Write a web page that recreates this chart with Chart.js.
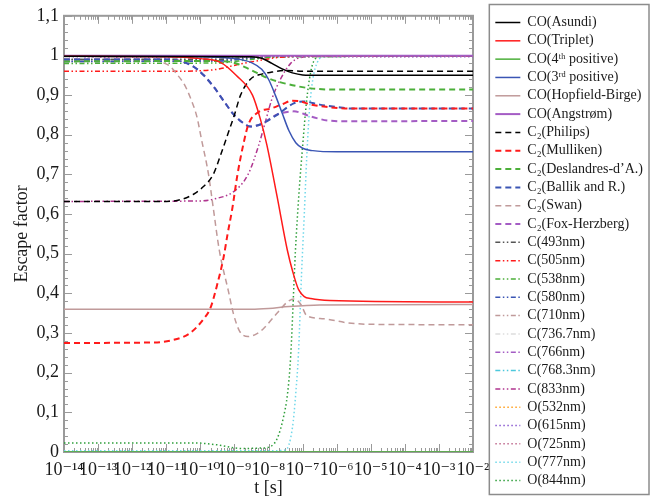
<!DOCTYPE html>
<html>
<head>
<meta charset="utf-8">
<script src="https://cdn.jsdelivr.net/npm/chart.js@4.4.1/dist/chart.umd.min.js"></script>
<style>
  html, body { margin: 0; padding: 0; background: #fff; }
</style>
</head>
<body>
<canvas id="escapeChart" width="654" height="499"></canvas>
<script>
// decade exponents for the time axis (t in seconds)
const decadeExponents = [-14, -13, -12, -11, -10, -9, -8, -7, -6, -5, -4, -3, -2];
const yTickValues = [0, 0.1, 0.2, 0.3, 0.4, 0.5, 0.6, 0.7, 0.8, 0.9, 1, 1.1];

// each series: [log10(t), escape factor]
const coAsundi = [[-14, 0.998], [-8.5, 0.997], [-8.2, 0.993], [-7.9, 0.98], [-7.6, 0.966], [-7.3, 0.956], [-7.0, 0.951], [-6.5, 0.95], [-2, 0.95]];
const coTriplet = [[-14, 0.998], [-11, 0.997], [-10, 0.992], [-9.4, 0.982], [-8.95, 0.95], [-8.47, 0.9], [-8.24, 0.84], [-8.05, 0.775], [-7.75, 0.645], [-7.45, 0.51], [-7.29, 0.455], [-7.12, 0.41], [-6.95, 0.392], [-6.76, 0.387], [-6.2, 0.382], [-2, 0.378]];
const co4thPositive = [[-14, 0.0], [-2, 0.0]];
const co3rdPositive = [[-14, 0.998], [-10, 0.997], [-9, 0.992], [-8.5, 0.982], [-8.2, 0.965], [-8.0, 0.94], [-7.8, 0.9], [-7.6, 0.855], [-7.4, 0.81], [-7.2, 0.78], [-7.0, 0.766], [-6.7, 0.76], [-6, 0.757], [-2, 0.757]];
const coHopfieldBirge = [[-14, 0.36], [-8.5, 0.36], [-8, 0.362], [-7.4, 0.367], [-6.5, 0.371], [-2, 0.372]];
const coAngstrom = [[-14, 0.999], [-2, 0.999]];
const c2Philips = [[-14, 0.632], [-11, 0.632], [-10.6, 0.636], [-10.2, 0.65], [-9.9, 0.67], [-9.62, 0.7], [-9.4, 0.75], [-9.2, 0.8], [-9.0, 0.85], [-8.82, 0.9], [-8.53, 0.94], [-8.2, 0.953], [-7.9, 0.958], [-7.5, 0.962], [-7, 0.96], [-2, 0.96]];
const c2Mulliken = [[-14, 0.275], [-11.5, 0.276], [-10.88, 0.281], [-10.3, 0.3], [-9.9, 0.336], [-9.7, 0.364], [-9.5, 0.424], [-9.32, 0.49], [-9.2, 0.55], [-9.06, 0.615], [-8.91, 0.7], [-8.74, 0.775], [-8.59, 0.826], [-8.3, 0.857], [-7.94, 0.866], [-7.6, 0.877], [-7.3, 0.886], [-7.1, 0.885], [-6.76, 0.876], [-6.26, 0.87], [-5.6, 0.866], [-2, 0.866]];
const c2Deslandres = [[-14, 0.985], [-9.5, 0.986], [-9.03, 0.982], [-8.6, 0.967], [-8.0, 0.942], [-7.5, 0.929], [-6.76, 0.917], [-6, 0.914], [-2, 0.914]];
const c2Ballik = [[-14, 0.99], [-11, 0.99], [-10.6, 0.986], [-10.2, 0.972], [-9.9, 0.95], [-9.6, 0.92], [-9.32, 0.886], [-9.03, 0.852], [-8.75, 0.83], [-8.53, 0.821], [-8.24, 0.826], [-7.74, 0.851], [-7.26, 0.879], [-6.97, 0.884], [-6.5, 0.876], [-6, 0.87], [-5.5, 0.866], [-2, 0.866]];
const c2Swan = [[-14, 0.99], [-11.5, 0.99], [-11.1, 0.982], [-10.88, 0.972], [-10.7, 0.954], [-10.47, 0.927], [-10.3, 0.895], [-10.1, 0.845], [-9.97, 0.79], [-9.76, 0.7], [-9.62, 0.615], [-9.44, 0.507], [-9.18, 0.407], [-9.03, 0.349], [-8.85, 0.305], [-8.6, 0.291], [-8.35, 0.298], [-8.15, 0.311], [-7.76, 0.349], [-7.45, 0.378], [-7.25, 0.386], [-7.05, 0.372], [-6.88, 0.344], [-6.38, 0.336], [-5.7, 0.326], [-5, 0.322], [-2, 0.321]];
const c2FoxHerzberg = [[-14, 0.99], [-11, 0.99], [-10.6, 0.986], [-10.2, 0.972], [-9.9, 0.95], [-9.6, 0.92], [-9.32, 0.886], [-9.03, 0.852], [-8.75, 0.83], [-8.53, 0.821], [-8.24, 0.826], [-7.74, 0.851], [-7.26, 0.859], [-6.76, 0.846], [-6.26, 0.836], [-5.6, 0.834], [-2, 0.835]];
const c493 = [[-14, 0.99], [-9.5, 0.99], [-8.5, 0.996], [-7.5, 0.999], [-2, 0.999]];
const c505 = [[-14, 0.96], [-10.9, 0.96], [-9.6, 0.964], [-9.4, 0.967], [-8.9, 0.977], [-8.3, 0.987], [-7.8, 0.994], [-7, 0.998], [-2, 0.998]];
const c538 = [[-14, 0.98], [-9.5, 0.981], [-8.5, 0.99], [-7.5, 0.997], [-2, 0.998]];
const c580 = [[-14, 0.985], [-9.5, 0.986], [-8.5, 0.993], [-7.5, 0.998], [-2, 0.998]];
const c710 = [[-14, 0.99], [-9, 0.991], [-8, 0.997], [-2, 0.998]];
const c7367 = [[-14, 0.995], [-2, 0.999]];
const c766 = [[-14, 0.985], [-9.5, 0.986], [-8.5, 0.993], [-7.5, 0.998], [-2, 0.999]];
const c7683 = [[-14, 0.99], [-9.5, 0.991], [-8.5, 0.996], [-2, 0.999]];
const c833 = [[-14, 0.632], [-10, 0.633], [-9.6, 0.638], [-9.0, 0.658], [-8.6, 0.7], [-8.3, 0.77], [-8.1, 0.83], [-7.9, 0.89], [-7.65, 0.94], [-7.35, 0.98], [-7.05, 0.995], [-6, 0.999], [-2, 0.999]];
const o532 = [[-14, 0.998], [-2, 0.998]];
const o615 = [[-14, 0.997], [-2, 0.997]];
const o725 = [[-14, 0.995], [-2, 0.998]];
const o777 = [[-14, 0.003], [-8, 0.003], [-7.5, 0.005], [-7.3, 0.06], [-7.2, 0.148], [-7.12, 0.25], [-7.03, 0.45], [-6.95, 0.6], [-6.88, 0.74], [-6.8, 0.86], [-6.7, 0.94], [-6.56, 0.984], [-6.38, 0.997], [-2, 0.999]];
const o844 = [[-14, 0.023], [-10.2, 0.023], [-9.5, 0.018], [-8.8, 0.009], [-8.2, 0.01], [-7.94, 0.014], [-7.74, 0.035], [-7.56, 0.088], [-7.44, 0.148], [-7.35, 0.24], [-7.21, 0.507], [-7.1, 0.66], [-7.0, 0.77], [-6.9, 0.87], [-6.8, 0.94], [-6.68, 0.984], [-6.47, 0.997], [-2, 0.999]];

const SOLID = [];
const DASHED = [6, 4];
const DASH_DOT = [5, 2.5, 1.5, 2.5, 1.5, 2.5];
const DOTTED = [1.5, 2.5];

const seriesList = [
  ['CO(Asundi)', coAsundi, '#000000', SOLID, 1.5],
  ['CO(Triplet)', coTriplet, '#ff1a1a', SOLID, 1.5],
  ['CO(4\u1D57\u02B0 positive)', co4thPositive, '#4caf3a', SOLID, 1.5],
  ['CO(3\u02B3\u1D48 positive)', co3rdPositive, '#3a55b4', SOLID, 1.5],
  ['CO(Hopfield-Birge)', coHopfieldBirge, '#c09a9a', SOLID, 1.5],
  ['CO(Angstrøm)', coAngstrom, '#a45cc4', SOLID, 2],
  ['C\u2082(Philips)', c2Philips, '#000000', DASHED, 1.5],
  ['C\u2082(Mulliken)', c2Mulliken, '#ff1a1a', DASHED, 2],
  ['C\u2082(Deslandres-d\u2019A.)', c2Deslandres, '#4caf3a', DASHED, 2],
  ['C\u2082(Ballik and R.)', c2Ballik, '#3a55b4', DASHED, 2],
  ['C\u2082(Swan)', c2Swan, '#c09a9a', DASHED, 1.5],
  ['C\u2082(Fox-Herzberg)', c2FoxHerzberg, '#a45cc4', DASHED, 2],
  ['C(493nm)', c493, '#555555', DASH_DOT, 1.5],
  ['C(505nm)', c505, '#ff1a1a', DASH_DOT, 1.5],
  ['C(538nm)', c538, '#4caf3a', DASH_DOT, 1.5],
  ['C(580nm)', c580, '#3a55b4', DASH_DOT, 1.5],
  ['C(710nm)', c710, '#c09a9a', DASH_DOT, 1.5],
  ['C(736.7nm)', c7367, '#dddddd', DASH_DOT, 1.5],
  ['C(766nm)', c766, '#a45cc4', DASH_DOT, 1.5],
  ['C(768.3nm)', c7683, '#4cc8dc', DASH_DOT, 1.5],
  ['C(833nm)', c833, '#b0358f', DASH_DOT, 1.5],
  ['O(532nm)', o532, '#ffa020', DOTTED, 1.5],
  ['O(615nm)', o615, '#8a5ad0', DOTTED, 1.5],
  ['O(725nm)', o725, '#c06c90', DOTTED, 1.5],
  ['O(777nm)', o777, '#70d8ea', DOTTED, 1.5],
  ['O(844nm)', o844, '#2e9e3a', DOTTED, 1.5],
];

const AXIS_COLOR = '#9a9a9a';
const TEXT_COLOR = '#1a1a1a';
const SERIF = "'Liberation Serif', 'DejaVu Serif', serif";
const SUP = { '-': '\u207B', '0': '\u2070', '1': '\u00B9', '2': '\u00B2', '3': '\u00B3', '4': '\u2074', '5': '\u2075', '6': '\u2076', '7': '\u2077', '8': '\u2078', '9': '\u2079' };

function toSuperscript(n) {
  return String(n).split('').map((ch) => SUP[ch] || ch).join('');
}

function toPoints(pairs) {
  return pairs.map(([e, v]) => ({ x: Math.pow(10, e), y: v }));
}

const datasets = seriesList.map(([label, pairs, color, dash, width]) => ({
  label,
  data: toPoints(pairs),
  borderColor: color,
  backgroundColor: color,
  borderDash: dash,
  borderWidth: width,
  pointRadius: 0,
  pointHoverRadius: 0,
  pointStyle: 'line',
  cubicInterpolationMode: 'monotone',
  fill: false,
}));

// legend samples keep the dataset's dash pattern
function legendLabels(chart) {
  const items = Chart.defaults.plugins.legend.labels.generateLabels(chart);
  return items.map((item) => {
    const ds = chart.data.datasets[item.datasetIndex];
    return { ...item, lineDash: ds.borderDash, lineWidth: ds.borderWidth, strokeStyle: ds.borderColor, pointStyle: 'line' };
  });
}

// inward tick marks on all four sides plus the plot frame and legend frame
const frameTicks = {
  id: 'frameTicks',
  beforeDatasetsDraw(chart) {
    const { ctx, chartArea: a, scales: { x, y } } = chart;
    ctx.save();
    ctx.strokeStyle = AXIS_COLOR;
    ctx.lineWidth = 1;
    ctx.beginPath();
    for (let i = 0; i <= 55; i += 1) {
      const py = Math.round(y.getPixelForValue(i * 0.02)) + 0.5;
      const len = i % 5 === 0 ? 8 : 4;
      ctx.moveTo(a.left, py); ctx.lineTo(a.left + len, py);
      ctx.moveTo(a.right, py); ctx.lineTo(a.right - len, py);
    }
    decadeExponents.forEach((e) => {
      const last = e === decadeExponents[decadeExponents.length - 1] ? 1 : 9;
      for (let k = 1; k <= last; k += 1) {
        const px = Math.round(x.getPixelForValue(k * Math.pow(10, e))) + 0.5;
        const len = k === 1 ? 8 : 4;
        ctx.moveTo(px, a.bottom); ctx.lineTo(px, a.bottom - len);
        ctx.moveTo(px, a.top); ctx.lineTo(px, a.top + len);
      }
    });
    ctx.stroke();
    ctx.lineWidth = 2;
    ctx.strokeRect(a.left, a.top, a.right - a.left, a.bottom - a.top);
    ctx.restore();
  },
  afterDraw(chart) {
    const l = chart.legend;
    if (!l || !l.legendHitBoxes.length) return;
    const boxes = l.legendHitBoxes;
    const first = boxes[0];
    const last = boxes[boxes.length - 1];
    const { ctx } = chart;
    ctx.save();
    ctx.strokeStyle = '#8c8c8c';
    ctx.lineWidth = 1.5;
    const left = first.left - 6;
    const top = first.top - 11;
    const bottom = last.top + last.height + 7;
    ctx.strokeRect(left, top, chart.width - 5 - left, bottom - top);
    ctx.restore();
  },
};

new Chart(document.getElementById('escapeChart'), {
  type: 'line',
  data: { datasets },
  options: {
    responsive: false,
    animation: false,
    layout: { padding: { left: 0, right: 1, top: 4, bottom: 0 } },
    plugins: {
      legend: {
        position: 'right',
        align: 'center',
        maxWidth: 300,
        labels: {
          usePointStyle: true,
          pointStyle: 'line',
          pointStyleWidth: 25,
          padding: 4.32,
          color: TEXT_COLOR,
          font: { family: SERIF, size: 14 },
          generateLabels: legendLabels,
        },
      },
      tooltip: { enabled: false },
    },
    scales: {
      x: {
        type: 'logarithmic',
        position: 'bottom',
        min: 1e-14,
        max: 1e-2,
        afterBuildTicks(scale) {
          scale.ticks = decadeExponents.map((e) => ({ value: Math.pow(10, e) }));
        },
        afterFit(scale) { scale.height = 47; },
        grid: { display: false, drawTicks: false },
        border: { display: false },
        ticks: {
          autoSkip: false,
          maxRotation: 0,
          minRotation: 0,
          padding: 7,
          color: TEXT_COLOR,
          font: { family: SERIF, size: 18 },
          callback(value) {
            return '10' + toSuperscript(Math.round(Math.log10(value)));
          },
        },
        title: {
          display: true,
          text: 't [s]',
          color: TEXT_COLOR,
          font: { family: SERIF, size: 18 },
          padding: { top: 0, bottom: 0 },
        },
      },
      topGap: {
        type: 'linear',
        position: 'top',
        min: 0,
        max: 1,
        afterFit(scale) { scale.height = 10; },
        grid: { display: false, drawTicks: false },
        border: { display: false },
        ticks: { display: false },
      },
      y: {
        type: 'linear',
        position: 'left',
        min: 0,
        max: 1.1,
        afterBuildTicks(scale) {
          scale.ticks = yTickValues.map((v) => ({ value: v }));
        },
        afterFit(scale) { scale.width = 64; },
        grid: { display: false, drawTicks: false },
        border: { display: false },
        ticks: {
          padding: 5,
          color: TEXT_COLOR,
          font: { family: SERIF, size: 18 },
          callback(value) {
            return String(Math.round(value * 10) / 10).replace('.', ',');
          },
        },
        title: {
          display: true,
          text: 'Escape factor',
          color: TEXT_COLOR,
          font: { family: SERIF, size: 18 },
          padding: { top: 11, bottom: 0 },
        },
      },
      rightGap: {
        type: 'linear',
        position: 'right',
        min: 0,
        max: 1,
        afterFit(scale) { scale.width = 18; },
        grid: { display: false, drawTicks: false },
        border: { display: false },
        ticks: { display: false },
      },
    },
  },
  plugins: [frameTicks],
});
</script>
</body>
</html>
